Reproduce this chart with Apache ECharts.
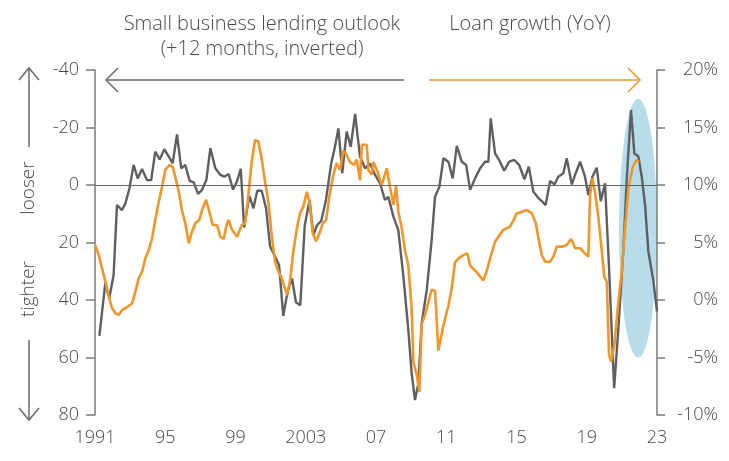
<!DOCTYPE html>
<html><head><meta charset="utf-8">
<script src="https://cdn.jsdelivr.net/npm/echarts@6/dist/echarts.min.js"></script>
<style>html,body{margin:0;padding:0;background:#fff}#c{width:729px;height:461px}</style>
</head><body><div id="c"></div>
<script>
// ---------- data ----------
const xTickLabels = ['1991','95','99','2003','07','11','15','19','23'];
const xMin = 1991, xMax = 2023, xStep = 4;

// Small business lending outlook (+12 months, inverted) - left axis
const grayDates = [1991.25,1991.59,1991.81,1992.06,1992.25,1992.54,1992.73,1992.96,1993.2,1993.43,1993.68,1993.96,1994.2,1994.43,1994.68,1994.95,1995.2,1995.42,1995.67,1995.91,1996.14,1996.39,1996.62,1996.87,1997.09,1997.34,1997.57,1997.85,1998.14,1998.36,1998.61,1998.86,1999.08,1999.3,1999.49,1999.79,2000.02,2000.24,2000.49,2000.74,2000.97,2001.25,2001.48,2001.72,2001.97,2002.22,2002.44,2002.69,2002.94,2003.22,2003.43,2003.64,2003.88,2004.15,2004.45,2004.65,2004.86,2005.08,2005.33,2005.56,2005.81,2006.09,2006.38,2006.66,2006.95,2007.23,2007.51,2007.7,2007.99,2008.27,2008.56,2008.84,2009.03,2009.22,2009.41,2009.6,2009.89,2010.17,2010.36,2010.61,2010.84,2011.12,2011.37,2011.6,2011.88,2012.13,2012.36,2012.64,2012.93,2013.21,2013.4,2013.53,2013.78,2014.06,2014.3,2014.58,2014.87,2015.15,2015.45,2015.7,2015.96,2016.25,2016.47,2016.66,2016.91,2017.16,2017.38,2017.67,2017.86,2018.15,2018.37,2018.62,2018.9,2019.09,2019.32,2019.57,2019.8,2020.04,2020.27,2020.56,2020.8,2021.09,2021.28,2021.52,2021.71,2021.94,2022.13,2022.32,2022.51,2022.8,2023.0];
const grayValues = [52.5,34,39.4,31.3,7.0,8.7,6.4,1.2,-7,-2.3,-5.6,-1.7,-1.7,-11.6,-8.9,-12.4,-9.9,-7.5,-17.6,-5.8,-7,-1.4,-0.9,3.1,1.7,-1.7,-12.8,-5.8,-3.5,-2.9,-3.8,1.6,-1.2,-5.6,14.8,3.8,8.1,2.0,2.0,8.1,21.4,24.9,27.8,45.5,37,32.5,40.8,41.8,14.2,5.2,17.5,14,12.5,5.2,-7.5,-13,-19.7,-4.1,-18.6,-13.3,-24.7,-9.9,-5.8,-7.5,-3.5,-0.6,5.2,4.1,11,15.7,31.9,50.4,65.5,74.8,69,48.1,36.5,19.1,4.1,0.6,-9.3,-8.1,-2.3,-13.6,-8.1,-7,1.7,-2.3,-5.8,-8.1,-8.1,-23.2,-11,-8.1,-5,-8.1,-8.7,-7,-2,-6.4,2.3,4.6,5.8,7.0,-1.4,-0.2,-2.9,-4.1,-9.3,-0.2,-4.1,-8.1,-2.9,3.5,-2.9,-6,5.6,-0.6,29,70.7,49.9,22,-2.3,-26.1,-11,-9.9,-2.9,7,23.2,33.6,44];

// Loan growth (YoY, %) - right axis
const orangeDates = [1991.0,1991.21,1991.4,1991.59,1991.81,1991.97,1992.16,1992.35,1992.54,1992.82,1993.11,1993.3,1993.49,1993.68,1993.86,1994.06,1994.25,1994.43,1994.63,1994.82,1995.0,1995.23,1995.42,1995.57,1995.77,1995.95,1996.14,1996.34,1996.52,1996.71,1996.94,1997.09,1997.32,1997.51,1997.7,1997.95,1998.14,1998.33,1998.5,1998.61,1998.8,1999.09,1999.35,1999.54,1999.73,1999.92,2000.11,2000.3,2000.49,2000.68,2000.87,2001.06,2001.25,2001.44,2001.63,2001.82,2001.95,2002.1,2002.29,2002.49,2002.67,2002.86,2003.06,2003.21,2003.4,2003.59,2003.78,2003.97,2004.16,2004.35,2004.57,2004.76,2004.95,2005.14,2005.33,2005.52,2005.75,2005.9,2006.09,2006.19,2006.47,2006.57,2006.76,2006.85,2007.08,2007.23,2007.33,2007.61,2007.8,2007.99,2008.14,2008.27,2008.47,2008.65,2008.84,2009.03,2009.13,2009.32,2009.47,2009.6,2009.79,2009.98,2010.17,2010.36,2010.55,2010.84,2011.12,2011.31,2011.5,2011.69,2011.97,2012.2,2012.36,2012.74,2013.11,2013.3,2013.49,2013.78,2013.97,2014.25,2014.63,2014.82,2015.0,2015.29,2015.58,2015.87,2016.1,2016.25,2016.44,2016.63,2016.91,2017.1,2017.29,2017.58,2017.86,2018.11,2018.34,2018.62,2018.9,2019.09,2019.19,2019.32,2019.47,2019.67,2019.86,2020.0,2020.14,2020.27,2020.39,2020.57,2020.8,2020.99,2021.18,2021.37,2021.6,2021.81,2021.98];
const orangeValues = [4.8,3.9,2.75,1.6,0.15,-0.7,-1.15,-1.3,-0.87,-0.63,-0.3,0.72,1.9,2.46,3.6,4.35,5.37,6.96,8.55,9.86,11.3,11.74,11.6,10.7,9.4,7.8,6.67,4.93,5.94,6.67,6.96,7.8,8.7,7.68,6.52,6.52,5.5,5.3,6.6,6.96,6.1,5.5,6.5,6.67,9.1,12.0,13.9,13.8,12.3,10.3,8.55,5.65,3.33,2.46,1.9,1.0,0.43,1.6,4.2,6.2,7.54,8.1,9.4,8.55,5.8,5.1,5.8,6.67,6.96,9.1,10.87,11.9,11.3,13.0,12.6,12.0,11.74,12.2,10.4,13.5,13.5,11.3,10.9,12.0,11.2,10.4,10.0,11.45,9.8,8.26,9.9,7.7,6.2,4.3,3.0,-0.8,-5.4,-6.5,-8.0,-2.1,-1.3,-0.2,0.9,0.8,-4.4,-2.2,-0.5,1.0,3.3,3.6,3.9,4.06,3.0,2.4,1.7,2.5,3.6,5.07,5.5,6.1,6.37,6.9,7.5,7.68,7.83,7.54,6.67,5.36,3.9,3.33,3.33,3.77,4.64,4.64,4.78,5.3,4.5,4.5,4.06,3.77,9.13,10.58,9.4,7.1,4.2,2.0,1.6,-4.78,-5.36,-3.9,-0.14,2.46,6.23,9.7,11.45,12.17,12.0];

const leftAxisRange = [-40, 80, 20];
const rightAxisRange = [-10, 20, 5];
const highlightEllipse = {year: 2021.92, value: 15, halfYears: 1.08, halfValue: 45};

const GRAY = '#5e5f62', ORANGE = '#F0962B', TXT = '#4a4a4a', AX = '#7a7a7a';
const FONT = 'Open Sans';

const chart = echarts.init(document.getElementById('c'), null, {renderer: 'canvas'});

function arrowH(x1, x2, y, color, tipLeft) {
  const tip = tipLeft ? x1 : x2, d = tipLeft ? 12 : -12;
  return [
    {type: 'line', shape: {x1: x1, y1: y, x2: x2, y2: y}, style: {stroke: color, lineWidth: 1.5}},
    {type: 'polyline', shape: {points: [[tip + d, y - 12], [tip, y], [tip + d, y + 12]]}, style: {stroke: color, lineWidth: 1.5, fill: null}}
  ];
}
function arrowV(x, y1, y2, color, tipTop) {
  const tip = tipTop ? y1 : y2, d = tipTop ? 12 : -12;
  return [
    {type: 'line', shape: {x1: x, y1: y1, x2: x, y2: y2}, style: {stroke: color, lineWidth: 1.5}},
    {type: 'polyline', shape: {points: [[x - 10, tip + d], [x, tip], [x + 10, tip + d]]}, style: {stroke: color, lineWidth: 1.5, fill: null}}
  ];
}
const txtStyle = (t, size) => ({text: t, fill: TXT, font: '300 ' + (size || 18) + 'px "' + FONT + '"', textAlign: 'center', textVerticalAlign: 'middle'});

const option = {
  animation: false,
  backgroundColor: '#ffffff',
  grid: {left: 95, right: 72, top: 70, bottom: 46, outerBoundsMode: 'none'},
  xAxis: {
    type: 'value', min: xMin, max: xMax, interval: xStep,
    axisLine: {show: false}, axisTick: {show: false}, splitLine: {show: false},
    axisLabel: {color: TXT, fontSize: 18, fontWeight: 300, fontFamily: FONT, margin: 14,
      formatter: v => xTickLabels[Math.round((v - xMin) / xStep)] || ''}
  },
  yAxis: [
    {type: 'value', position: 'left', inverse: true,
      min: leftAxisRange[0], max: leftAxisRange[1], interval: leftAxisRange[2],
      axisLine: {show: true, lineStyle: {color: AX, width: 1.5}},
      axisTick: {show: true, length: 9, lineStyle: {color: AX, width: 1.5}},
      splitLine: {show: false},
      axisLabel: {color: TXT, fontSize: 18, fontWeight: 300, fontFamily: FONT, margin: 16}},
    {type: 'value', position: 'right',
      min: rightAxisRange[0], max: rightAxisRange[1], interval: rightAxisRange[2],
      axisLine: {show: true, lineStyle: {color: AX, width: 1.5}},
      axisTick: {show: true, length: 8, lineStyle: {color: AX, width: 1.5}},
      splitLine: {show: false},
      axisLabel: {color: TXT, fontSize: 18, fontWeight: 300, fontFamily: FONT, margin: 61, align: 'right', formatter: '{value}%'}}
  ],
  series: [
    {name: 'Small business lending outlook', type: 'line', yAxisIndex: 0, z: 3,
      data: grayDates.map((d, i) => [d, grayValues[i]]),
      showSymbol: false, symbol: 'none', lineStyle: {color: GRAY, width: 2.4}, itemStyle: {color: GRAY},
      markLine: {silent: true, symbol: 'none', label: {show: false},
        lineStyle: {color: '#666', width: 1.2, type: 'solid'}, data: [{yAxis: 0}]}},
    {name: 'Loan growth (YoY)', type: 'line', yAxisIndex: 1, z: 4,
      data: orangeDates.map((d, i) => [d, orangeValues[i]]),
      showSymbol: false, symbol: 'none', lineStyle: {color: ORANGE, width: 2.6}, itemStyle: {color: ORANGE}}
  ]
};
chart.setOption(option);

// highlight ellipse positioned through the axes
const cLeft = chart.convertToPixel({xAxisIndex: 0, yAxisIndex: 0}, [highlightEllipse.year, highlightEllipse.value]);
const p0 = chart.convertToPixel({xAxisIndex: 0, yAxisIndex: 0}, [highlightEllipse.year + highlightEllipse.halfYears, highlightEllipse.value + highlightEllipse.halfValue]);

const graphics = [
  {type: 'ellipse', z: -1, shape: {cx: cLeft[0], cy: cLeft[1], rx: Math.abs(p0[0] - cLeft[0]), ry: Math.abs(p0[1] - cLeft[1])},
    style: {fill: '#b7dcea'}},
  {type: 'text', x: 262, y: 24, style: txtStyle('Small business lending outlook', 20)},
  {type: 'text', x: 262, y: 49, style: txtStyle('(+12 months, inverted)', 20)},
  {type: 'text', x: 530, y: 24, style: txtStyle('Loan growth (YoY)', 20)},
  ...arrowH(106, 404, 80, '#6a6a6a', true),
  ...arrowH(429, 640, 80, '#F0962B', false),
  {type: 'text', x: 29, y: 188, rotation: Math.PI / 2, style: txtStyle('looser', 19)},
  {type: 'text', x: 29, y: 289, rotation: Math.PI / 2, style: txtStyle('tighter', 19)},
  ...arrowV(29, 68, 147, '#6a6a6a', true),
  ...arrowV(29, 340, 420, '#6a6a6a', false)
];
chart.setOption({graphic: {elements: graphics}});
</script></body></html>
